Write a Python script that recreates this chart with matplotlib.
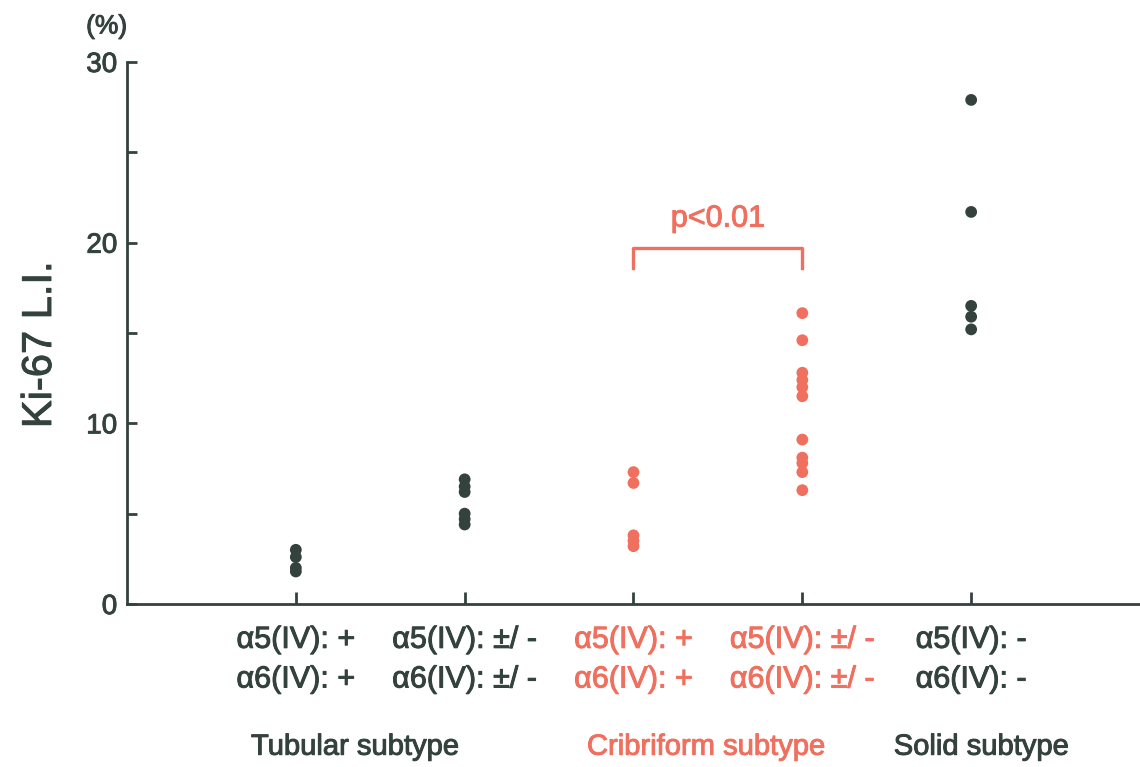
import numpy as np
import matplotlib
matplotlib.use("Agg")
import matplotlib.pyplot as plt
import matplotlib.transforms as mtransforms
import matplotlib.patheffects as pe

plt.rcParams['font.family'] = ['Liberation Sans', 'DejaVu Sans']

# Ki-67 labelling index (%) per group
tub_pos = [3.0, 2.6, 2.0, 1.8]
tub_neg = [6.9, 6.5, 6.2, 5.0, 4.7, 4.4]
cri_pos = [7.3, 6.7, 3.8, 3.5, 3.2]
cri_neg = [16.1, 14.6, 12.8, 12.4, 12.0, 11.5, 9.1, 8.1, 7.8, 7.3, 6.3]
solid = [27.9, 21.7, 16.5, 15.9, 15.2]

groups = [tub_pos, tub_neg, cri_pos, cri_neg, solid]
tick_labels = ['\u03b15(IV): +\n\u03b16(IV): +',
               '\u03b15(IV): \u00b1/ -\n\u03b16(IV): \u00b1/ -',
               '\u03b15(IV): +\n\u03b16(IV): +',
               '\u03b15(IV): \u00b1/ -\n\u03b16(IV): \u00b1/ -',
               '\u03b15(IV): -\n\u03b16(IV): -']
subtypes = ['Tubular subtype', 'Cribriform subtype', 'Solid subtype']
subtype_x = [1.35, 3.43, 5.06]

dark = '#34423d'
red = '#f0705f'
colors = [dark, dark, red, red, dark]


def heavy(c):
    # scanned original looks a bit heavier than plain regular weight
    return [pe.withStroke(linewidth=0.7, foreground=c)]


fig = plt.figure(figsize=(11.4, 7.67), dpi=100)
ax = fig.add_axes([0.1114, 0.2125, 0.8886, 0.7067])

for i, vals in enumerate(groups):
    x = np.full(len(vals), i + 1)
    ax.scatter(x, vals, s=72, color=colors[i], zorder=3, edgecolors='none')

ax.set_xlim(0, 6.0)
ax.set_ylim(0, 30)
for s in ['top', 'right']:
    ax.spines[s].set_visible(False)
for s in ['left', 'bottom']:
    ax.spines[s].set_linewidth(2)
    ax.spines[s].set_color(dark)

ax.set_yticks([0, 10, 20, 30])
ax.set_yticks([5, 15, 25], minor=True)
ax.tick_params(axis='y', which='both', direction='in', length=7, width=2,
               color=dark, labelsize=20, labelcolor=dark, pad=7)
ax.set_xticks([1, 2, 3, 4, 5])
ax.set_xticklabels(tick_labels, linespacing=1.42)
ax.tick_params(axis='x', direction='in', length=9, width=2, color=dark,
               labelsize=22, pad=15)
for lab, c in zip(ax.get_xticklabels(), colors):
    lab.set_color(c)
    lab.set_path_effects(heavy(c))
for lab in ax.get_yticklabels():
    lab.set_path_effects(heavy(dark))

fig.text(40 / 1140, 1 - 345 / 767, 'Ki-67 L.I.', fontsize=30, color=dark,
         rotation=90, ha='center', va='center', path_effects=heavy(dark))
ax.text(-0.12, 31.3, '(%)', fontsize=19, color=dark, ha='center', va='bottom',
        clip_on=False, path_effects=heavy(dark))

# significance bracket
ax.plot([3, 3, 4, 4], [18.6, 19.7, 19.7, 18.6], color=red, lw=2.4, clip_on=False)
ax.text(3.5, 20.5, 'p<0.01', fontsize=22, color=red, ha='center', va='bottom',
        path_effects=heavy(red))

trans = mtransforms.blended_transform_factory(ax.transData, fig.transFigure)
sub_colors = [dark, red, dark]
for name, xx, c in zip(subtypes, subtype_x, sub_colors):
    fig.text(xx, 0.016, name, transform=trans, fontsize=21, color=c,
             ha='center', va='baseline', path_effects=heavy(c))

fig.savefig('out.png', dpi=100)
